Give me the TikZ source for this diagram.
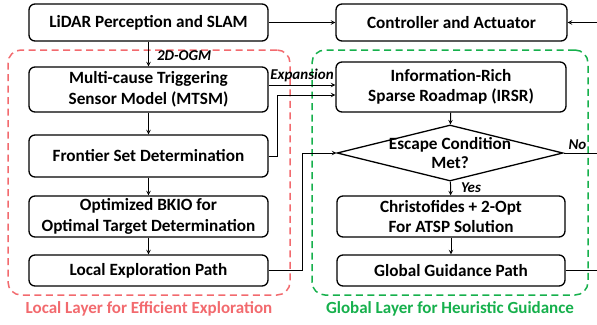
\documentclass[tikz,border=0pt]{standalone}
\usepackage{fontspec}
\setmainfont{Carlito}
\usetikzlibrary{arrows.meta}
\usetikzlibrary{calc}
\usetikzlibrary{shapes.geometric}
\usepackage{xcolor}
\definecolor{localred}{RGB}{242,106,110}
\definecolor{globalgreen}{RGB}{22,176,76}

\tikzset{
	blk/.style={draw,rounded corners=6,line width=1.3pt,align=center,inner sep=0pt,
		font=\fontsize{17.2}{20.5}\selectfont\bfseries},
	lbl/.style={font=\fontsize{15}{17}\selectfont\bfseries\itshape,inner sep=0pt},
	layer/.style={dash pattern=on 7pt off 4.5pt,line width=1.5pt,rounded corners=13,inner sep=0pt},
	layertxt/.style={font=\fontsize{17}{20}\selectfont\bfseries,inner sep=0pt},
	arr/.style={->,>=stealth,line width=1pt}
}

\begin{document}
\begin{tikzpicture}[x=1pt,y=-1pt]
			\useasboundingbox (0,0) rectangle (597,324);
			% dashed layers
			\node(localframe) at (149,172.5)[layer,draw=localred,minimum width=282,minimum height=245]{};
			\node(globalframe) at (450,172.5)[layer,draw=globalgreen,minimum width=276,minimum height=245]{};
			\node(localtxt) at (149,309)[layertxt,text=localred]{Local Layer for Efficient Exploration};
			\node(globaltxt) at (450,309)[layertxt,text=globalgreen]{Global Layer for Heuristic Guidance};
			
			% left column
			\node(lidar) at (148.5,22.5)[blk,minimum width=239,minimum height=37]{LiDAR Perception and SLAM};
			\node(mtsm) at (148.5,89.5)[blk,minimum width=239,minimum height=45]{Multi-cause Triggering\\Sensor Model (MTSM)};
			\node(front) at (148.5,156)[blk,minimum width=239,minimum height=42]{Frontier Set Determination};
			\node(bkio) at (148.5,216.5)[blk,minimum width=239,minimum height=41]{Optimized BKIO for\\Optimal Target Determination};
			\node(local) at (148.5,270.5)[blk,minimum width=239,minimum height=31]{Local Exploration Path};
			
			% right column
			\node(ctrl) at (451.5,22.5)[blk,minimum width=231,minimum height=37]{Controller and Actuator};
			\node(irsr) at (451,87)[blk,minimum width=230,minimum height=50]{Information-Rich\\Sparse Roadmap (IRSR)};
			\node(esc) at (450,153)[diamond,draw,line width=1.3pt,inner sep=0pt,minimum width=226,minimum height=56]{};
			\node(esctxt) at (esc.center)[align=center,inner sep=0pt,font=\fontsize{17.2}{19}\selectfont\bfseries]{Escape Condition\\Met?};
			\node(chris) at (451,216.5)[blk,minimum width=228,minimum height=41]{Christofides + 2-Opt\\For ATSP Solution};
			\node(glob) at (451,270.5)[blk,minimum width=228,minimum height=31]{Global Guidance Path};
			\coordinate(rail) at (603,0);
			
			% connectors
			\draw[arr](lidar) -- (mtsm) node[lbl,pos=0.55,right=8pt]{2D-OGM};
			\draw[arr](mtsm) -- (front);
			\draw[arr](front) -- (bkio);
			\draw[arr](bkio) -- (local);
			\draw[arr](lidar) -- (ctrl);
			\draw[arr]([yshift=4.5pt]mtsm.east) -- ([yshift=2pt]irsr.west);
			\node(expan) at (302,75)[lbl]{Expansion};
			\draw[arr](front.east) -- ++(9,0) |- ([yshift=-8pt]irsr.west);
			\draw[arr](local.east) -- ++(34,0) |- (esc.west);
			\draw[arr](irsr) -- (esc);
			\draw[arr](esc) -- (chris) node[lbl,pos=0.45,right=10pt]{Yes};
			\draw[arr](chris) -- (glob);
			\draw[line width=1pt](esc.east) -- (esc.east -| rail) node[lbl,pos=0.35,above=3pt]{No};
			\draw[arr](glob.east) -- (glob.east -| rail) |- (ctrl.east);
		\end{tikzpicture}
\end{document}
